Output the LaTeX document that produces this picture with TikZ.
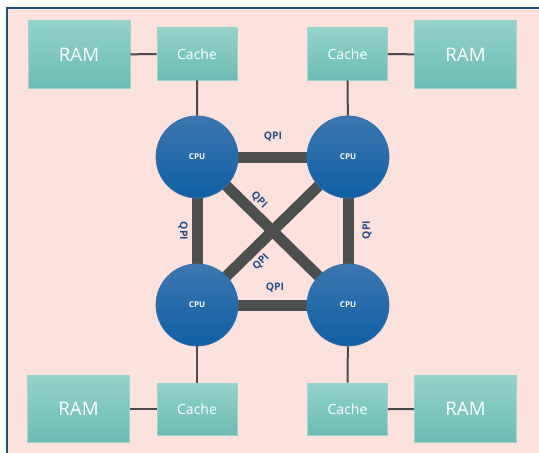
\documentclass[tikz,border=0pt]{standalone}
\usepackage{fontspec}
\setmainfont{Open Sans}
\usetikzlibrary{backgrounds}

\definecolor{framepink}{HTML}{FCE1DD}
\definecolor{frameblue}{HTML}{1F4E79}
\definecolor{boxtop}{HTML}{93D3CA}
\definecolor{boxbottom}{HTML}{6CBCB3}
\definecolor{boxedge}{HTML}{9AD6CD}
\definecolor{cputop}{HTML}{3D77B0}
\definecolor{cpubottom}{HTML}{0F5FA4}
\definecolor{cpuedge}{HTML}{3470AA}
\definecolor{busgray}{HTML}{4D4F4F}
\definecolor{wiregray}{HTML}{4A4A4A}
\definecolor{qpiblue}{HTML}{274E86}

\begin{document}
\begin{tikzpicture}[x=0.75pt,y=-0.75pt,
  box/.style={draw=boxedge,line width=0.6pt,top color=boxtop,bottom color=boxbottom,text=white},
  ram/.style={box,minimum width=76.5pt,minimum height=50.25pt,font=\fontsize{14}{16}\selectfont},
  cache/.style={box,minimum width=60pt,minimum height=39pt,font=\fontsize{10.5}{12}\selectfont},
  cpu/.style={circle,draw=cpuedge,line width=0.6pt,top color=cputop,bottom color=cpubottom,
    minimum size=61.5pt,inner sep=0pt,text=white,font=\bfseries\fontsize{6}{7}\selectfont},
  qpi/.style={text=qpiblue,inner sep=1pt,font=\bfseries\fontsize{7.8}{9}\selectfont},
  bus/.style={line width=8.25pt,draw=busgray},
  wire/.style={line width=1.5pt,draw=wiregray}]
\useasboundingbox (0,0) rectangle (539,453);

% processors
\node[cpu] (cpu1) at (197,157) {CPU};
\node[cpu] (cpu2) at (348,157) {CPU};
\node[cpu] (cpu3) at (197,305) {CPU};
\node[cpu] (cpu4) at (348,305) {CPU};

% caches and memory
\node[cache] (cache1) at (197,54) {Cache};
\node[cache] (cache2) at (347.5,54) {Cache};
\node[cache] (cache3) at (197,409) {Cache};
\node[cache] (cache4) at (347.5,409) {Cache};
\node[ram] (ram1) at (79,54.5) {RAM};
\node[ram] (ram2) at (465.5,54.5) {RAM};
\node[ram] (ram3) at (78.5,409) {RAM};
\node[ram] (ram4) at (465.5,409) {RAM};

\draw[wire] (ram1) -- (cache1) (cache1) -- (cpu1);
\draw[wire] (ram2) -- (cache2) (cache2) -- (cpu2);
\draw[wire] (ram3) -- (cache3) (cache3) -- (cpu3);
\draw[wire] (ram4) -- (cache4) (cache4) -- (cpu4);

% QPI links
\node[qpi] (qpitop) at (273,137) {QPI};
\node[qpi] (qpibot) at (275,288) {QPI};
\node[qpi,rotate=-90] (qpileft) at (183,231) {QPI};
\node[qpi,rotate=90] (qpiright) at (367,230) {QPI};
\node[qpi,rotate=-45] (qpidiag1) at (259,200) {QPI};
\node[qpi,rotate=45] (qpidiag2) at (261,262) {QPI};

\begin{scope}[on background layer]
  \fill[white] (0,0) rectangle (539,453);
  \filldraw[fill=framepink,draw=frameblue,line width=2pt] (7,8) rectangle (560,470);
  \draw[bus] (cpu1.center) -- (cpu2.center) -- (cpu4.center) -- (cpu3.center) -- cycle;
  \draw[bus] (cpu1.center) -- (cpu4.center);
  \draw[bus] (cpu3.center) -- (cpu2.center);
\end{scope}
\end{tikzpicture}
\end{document}
